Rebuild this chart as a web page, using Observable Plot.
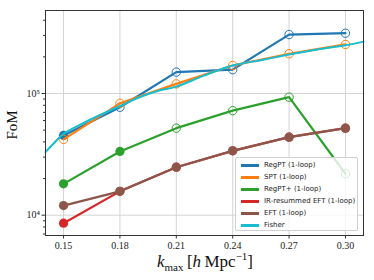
<!DOCTYPE html>
<html><head><meta charset="utf-8">
<script src="https://cdn.jsdelivr.net/npm/d3@7"></script>
<script src="https://cdn.jsdelivr.net/npm/@observablehq/plot@0.6"></script>
<style>
body{margin:0;background:#fff;}
#wrap{position:relative;width:374px;height:280px;overflow:hidden;}
.lbl{position:absolute;font-family:"Liberation Serif",serif;color:#111;white-space:nowrap;line-height:16px;}
.lbl sub,.lbl sup{line-height:0;font-size:11px;}
#legend{position:absolute;left:235px;top:157px;width:123px;height:74px;border:1px solid #d0d0d0;border-radius:2px;background:rgba(255,255,255,0.8);box-sizing:border-box;font-family:"DejaVu Sans",sans-serif;font-size:7px;color:#222;}
.row{position:absolute;left:5px;height:12px;line-height:12px;}
.handle{position:absolute;left:0;top:5px;width:18px;height:2.5px;}
.txt{position:absolute;left:23px;top:0;white-space:nowrap;}
</style></head><body><div id="wrap"></div><script>
// ---- data ----
const kValues = [0.15, 0.18, 0.21, 0.24, 0.27, 0.30];
const seriesNames = ["RegPT (1-loop)", "SPT (1-loop)", "RegPT+ (1-loop)", "IR-resummed EFT (1-loop)", "EFT (1-loop)", "Fisher"];
const regpt     = [45200, 77100, 150000, 157000, 305000, 313000];
const spt       = [42000, 83000, 120000, 170000, 212000, 253000];
const regptPlus = [18100, 33400, 51900, 72300, 93300, 21900];
const irEft     = [8600, 15700, 24800, 33800, 43800, 51900];
const eft       = [12000, 15700, 24800, 33800, 43800, 51900];
const regptFilled     = [1, 0, 0, 0, 0, 0];
const sptFilled       = [0, 0, 0, 0, 0, 0];
const regptPlusFilled = [1, 1, 0, 0, 0, 0];
const irEftFilled     = [1, 1, 1, 1, 1, 1];
const eftFilled       = [1, 1, 1, 1, 1, 1];
const fisherK   = [0.1404, 0.145, 0.15, 0.16, 0.17, 0.18, 0.19, 0.20, 0.21, 0.225, 0.24, 0.255, 0.27, 0.285, 0.30, 0.3096];
const fisherFoM = [33000, 39200, 46700, 56600, 67200, 78900, 92700, 105000, 114000, 141000, 170000, 188000, 209000, 230000, 249000, 267000];
const majorYTicks = [1e4, 1e5];
const minorYTicks = [7e3, 8e3, 9e3, 2e4, 3e4, 4e4, 5e4, 6e4, 7e4, 8e4, 9e4, 2e5, 3e5, 4e5];

const colors = ["#1f77b4", "#ff7f0e", "#2ca02c", "#d62728", "#8c564b", "#17becf"];

const pts = (vals, filled, color) => kValues.map((k, i) => ({k, v: vals[i], filled: filled[i], color}));
const sets = [
  pts(regpt, regptFilled, colors[0]),
  pts(spt, sptFilled, colors[1]),
  pts(regptPlus, regptPlusFilled, colors[2]),
  pts(irEft, irEftFilled, colors[3]),
  pts(eft, eftFilled, colors[4])
];
const fisher = fisherK.map((k, i) => ({k, v: fisherFoM[i]}));

const sup = {"0":"⁰","1":"¹","2":"²","3":"³","4":"⁴","5":"⁵","6":"⁶","7":"⁷","8":"⁸","9":"⁹"};
const powFmt = d => "10" + String(Math.round(Math.log10(d))).split("").map(c => sup[c]).join("");

const marks = [
  Plot.gridX(kValues, {stroke: "#d4d4d4", strokeOpacity: 1, strokeWidth: 1}),
  Plot.gridY(majorYTicks, {stroke: "#d4d4d4", strokeOpacity: 1, strokeWidth: 1})
];
sets.forEach(s => {
  marks.push(Plot.line(s, {x: "k", y: "v", stroke: s[0].color, strokeWidth: 2.2}));
  marks.push(Plot.dot(s.filter(d => !d.filled), {x: "k", y: "v", r: 4.2, stroke: s[0].color, strokeWidth: 1, fill: "none"}));
  marks.push(Plot.dot(s.filter(d => d.filled), {x: "k", y: "v", r: 4.6, fill: s[0].color, stroke: "none"}));
});
marks.push(Plot.line(fisher, {x: "k", y: "v", stroke: colors[5], strokeWidth: 2, curve: "catmull-rom"}));
marks.push(Plot.frame({stroke: "#333", strokeWidth: 1}));
marks.push(Plot.axisX(kValues, {tickFormat: d3.format(".2f"), tickSize: 3.5, tickPadding: 3, label: null, fontSize: 10, stroke: "#333"}));
marks.push(Plot.axisY(majorYTicks, {tickFormat: powFmt, tickSize: 3.5, tickPadding: 2, label: null, fontSize: 10, stroke: "#333"}));
marks.push(Plot.axisY(minorYTicks, {tickFormat: () => "", tickSize: 2, label: null, stroke: "#333"}));

const chart = Plot.plot({
  width: 374, height: 280,
  marginLeft: 45, marginRight: 11, marginTop: 10, marginBottom: 45,
  x: {domain: [0.1404, 0.3096]},
  y: {type: "log", domain: [6810, 481000]},
  style: {fontFamily: "'Liberation Serif', serif", fontSize: "10px", color: "#222", background: "white"},
  marks
});
const wrap = document.getElementById("wrap");
wrap.appendChild(chart);

// axis labels
const xl = document.createElement("div");
xl.className = "lbl";
xl.style.cssText = "left:205px;top:254px;transform:translateX(-50%);font-size:17px;";
xl.innerHTML = '<i>k</i><sub>max</sub>&thinsp;[<i>h</i>&thinsp;Mpc<sup>−1</sup>]';
wrap.appendChild(xl);
const yl = document.createElement("div");
yl.className = "lbl";
yl.style.cssText = "left:12px;top:125px;transform:translate(-50%,-50%) rotate(-90deg);font-size:15px;";
yl.textContent = "FoM";
wrap.appendChild(yl);

// legend
const lg = document.createElement("div");
lg.id = "legend";
seriesNames.forEach((n, i) => {
  const r = document.createElement("div");
  r.className = "row";
  r.style.top = (1 + i * 12) + "px";
  r.innerHTML = `<div class="handle" style="background:${colors[i]}"></div><div class="txt">${n}</div>`;
  lg.appendChild(r);
});
wrap.appendChild(lg);
</script></body></html>
